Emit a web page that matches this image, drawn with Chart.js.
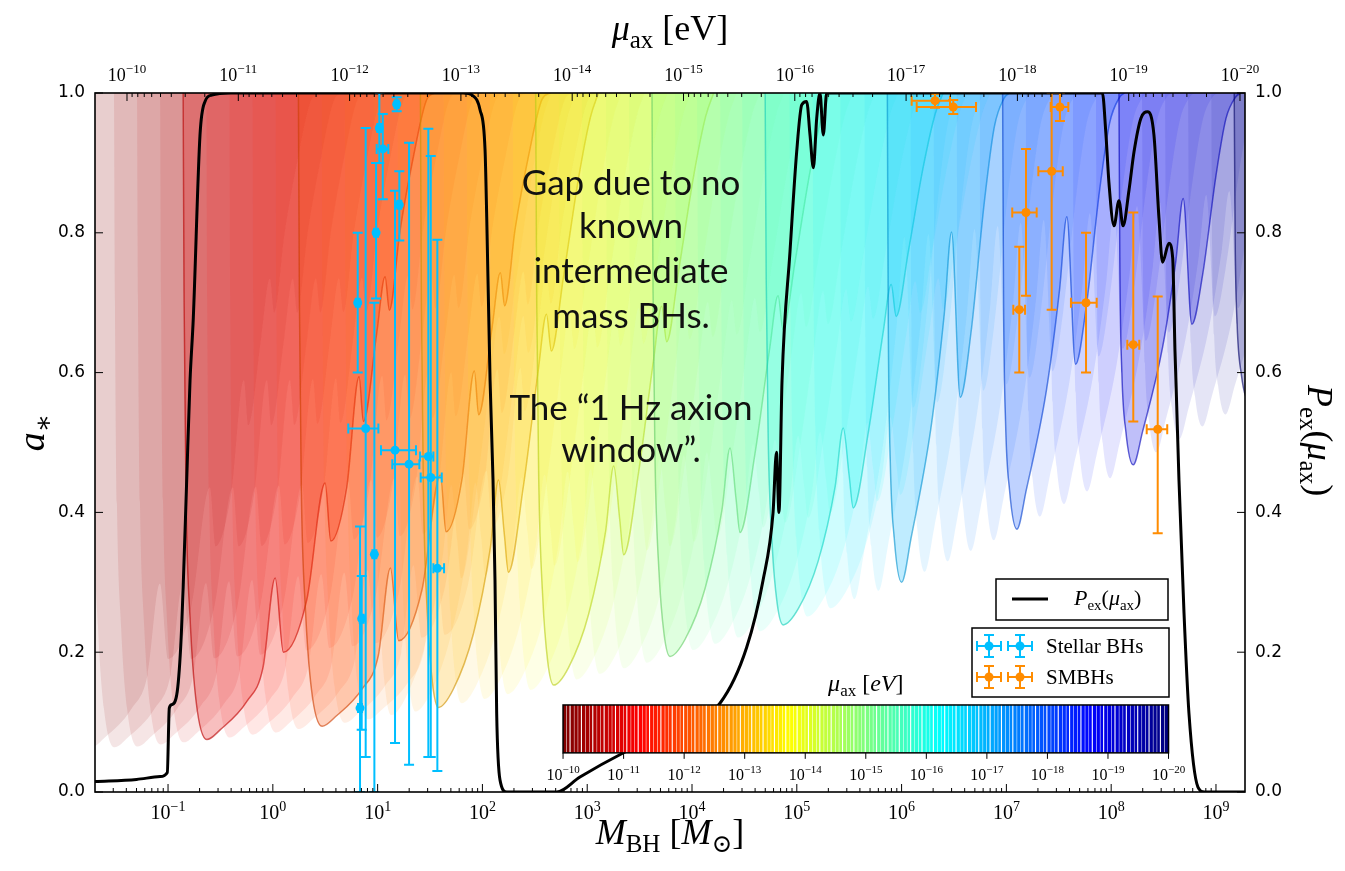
<!DOCTYPE html>
<html>
<head>
<meta charset="utf-8">
<script src="https://cdn.jsdelivr.net/npm/chart.js@4.4.1/dist/chart.umd.min.js"></script>
<style>
  html, body { margin: 0; background: #fff; }
</style>
</head>
<body>
<canvas id="chart" width="1345" height="871"></canvas>
<script>
// Superradiance exclusion regions, black hole spins and P_ex(mu_ax)

// --- region data: one shaded region per axion mass ---
const regionMuExp = [-10.0, -10.2, -10.4, -10.6, -10.8, -11.0, -11.2, -11.4, -11.6, -11.8,
  -12.0, -12.2, -12.4, -12.6, -12.8, -13.0, -13.2, -13.4, -13.6, -13.8,
  -14.0, -14.2, -14.4, -14.6, -14.8, -15.0, -15.2, -15.4, -15.6, -15.8,
  -16.0, -16.2, -16.4, -16.6, -16.8, -17.0, -17.2, -17.4, -17.6, -17.8,
  -18.0, -18.2, -18.4, -18.6, -18.8, -19.0, -19.2, -19.4, -19.6, -19.8, -20.0];
// log10(M_BH) of the deepest point of each region, and the spin there
const regionBottomLogM = [-1.73, -1.51, -1.29, -1.07, -0.85, -0.63, -0.41, -0.19, 0.03, 0.25,
  0.47, 0.69, 0.91, 1.13, 1.36, 1.58, 1.80, 2.02, 2.24, 2.46,
  2.68, 2.90, 3.12, 3.35, 3.57, 3.79, 4.01, 4.22, 4.44, 4.65,
  4.87, 5.10, 5.32, 5.55, 5.78, 6.00, 6.22, 6.44, 6.66, 6.88,
  7.10, 7.32, 7.55, 7.77, 7.99, 8.21, 8.43, 8.65, 8.87, 9.09, 9.31];
const regionBottomSpin = [0.064, 0.064, 0.065, 0.068, 0.071, 0.075, 0.078, 0.082, 0.085, 0.09,
  0.094, 0.099, 0.104, 0.11, 0.115, 0.121, 0.127, 0.133, 0.14, 0.146,
  0.153, 0.161, 0.169, 0.177, 0.185, 0.194, 0.203, 0.212, 0.221, 0.23,
  0.239, 0.251, 0.263, 0.276, 0.288, 0.30, 0.315, 0.33, 0.345, 0.36,
  0.376, 0.394, 0.412, 0.43, 0.449, 0.468, 0.486, 0.505, 0.523, 0.54, 0.56];

// boundary outlines read off the outlined regions:
// [offset in log10 M from the bottom, fraction of the depth below a*=1]
const shapeRed = [[-0.226, 0], [-0.217, 0.32], [-0.198, 0.629], [-0.159, 0.815], [-0.102, 0.941],
  [0, 1], [0.127, 0.985], [0.382, 0.941], [0.537, 0.888], [0.652, 0.75], [0.731, 0.865],
  [0.954, 0.784], [1.129, 0.603], [1.183, 0.693], [1.336, 0.609], [1.453, 0.439], [1.494, 0.508],
  [1.622, 0.371], [1.701, 0.284], [1.742, 0.336], [1.844, 0.213], [1.971, 0.099], [2.099, 0.01], [2.178, 0]];
const shapeMid = [[-0.172, 0], [-0.162, 0.35], [-0.143, 0.65], [-0.105, 0.85], [-0.057, 0.96],
  [0, 1], [0.143, 0.97], [0.334, 0.88], [0.496, 0.74], [0.573, 0.63], [0.630, 0.72], [0.668, 0.78],
  [0.811, 0.64], [0.954, 0.45], [1.031, 0.36], [1.078, 0.42], [1.193, 0.3], [1.336, 0.14],
  [1.450, 0.04], [1.527, 0]];
const shapeBlue = [[-0.136, 0], [-0.127, 0.474], [-0.108, 0.753], [-0.070, 0.91], [0, 1],
  [0.090, 0.91], [0.281, 0.683], [0.407, 0.452], [0.477, 0.284], [0.560, 0.622], [0.662, 0.49],
  [0.789, 0.224], [0.885, 0.069], [0.980, 0.01], [1.028, 0]];

// --- P_ex(mu_ax) curve ---
const pexLogM = [-1.697, -1.3, -1.076, -1.007, -0.988, -0.965, -0.917, -0.879, -0.854, -0.822,
  -0.79, -0.759, -0.695, -0.647, -0.583, -0.4, 1.6, 1.815, 1.91, 1.977, 2.025, 2.041, 2.073,
  2.101, 2.12, 2.136, 2.168, 2.232, 2.709, 2.931, 3.342, 3.6, 3.9, 4.267, 4.522, 4.678, 4.773,
  4.806, 4.83, 4.859, 4.935, 4.999, 5.047, 5.094, 5.126, 5.158, 5.19, 5.221, 5.253, 5.285, 5.4,
  7.8, 7.916, 7.949, 7.979, 8.027, 8.074, 8.113, 8.17, 8.218, 8.284, 8.347, 8.408, 8.456, 8.49,
  8.551, 8.587, 8.609, 8.618, 8.647, 8.695, 8.742, 8.828, 8.89, 9.277];
const pexValue = [0.015, 0.018, 0.022, 0.028, 0.12, 0.125, 0.139, 0.208, 0.30, 0.446,
  0.589, 0.678, 0.94, 0.988, 0.997, 1.0, 1.0, 1.0, 0.996, 0.976, 0.919, 0.823, 0.589,
  0.447, 0.303, 0.113, 0.017, 0.0, 0.0, 0.0215, 0.0558, 0.074, 0.096, 0.127, 0.207, 0.303, 0.399,
  0.486, 0.40, 0.588, 0.773, 0.916, 0.983, 0.988, 0.94, 0.893, 0.964, 1.0, 0.94, 1.0, 1.0,
  1.0, 1.0, 0.943, 0.871, 0.81, 0.846, 0.81, 0.861, 0.916, 0.964, 0.973, 0.94, 0.821, 0.758,
  0.785, 0.764, 0.63, 0.589, 0.446, 0.256, 0.113, 0.007, 0.0, 0.0];

// --- black hole spin measurements ---
const stellarLogM = [1.182, 1.016, 1.049, 0.985, 0.810, 1.207, 0.886, 1.166, 1.30, 1.484, 1.507, 1.57, 0.969, 0.848, 0.832];
const stellarLogMLo = [1.163, 0.997, 0.991, 0.966, 0.791, 1.188, 0.720, 1.032, 1.14, 1.405, 1.411, 1.532, 0.95, 0.829, 0.813];
const stellarLogMHi = [1.201, 1.035, 1.102, 1.004, 0.829, 1.226, 1.007, 1.366, 1.398, 1.532, 1.612, 1.634, 0.988, 0.867, 0.851];
const stellarSpin = [0.984, 0.95, 0.92, 0.80, 0.70, 0.84, 0.52, 0.489, 0.469, 0.48, 0.45, 0.32, 0.34, 0.248, 0.12];
const stellarSpinLo = [0.974, 0.90, 0.848, 0.706, 0.60, 0.789, 0.05, 0.07, 0.039, 0.05, 0.05, 0.03, 0.0, 0.089, 0.0];
const stellarSpinHi = [0.994, 1.0, 0.97, 0.90, 0.80, 0.888, 0.95, 0.86, 0.929, 0.949, 0.91, 0.79, 0.70, 0.309, 0.38];

const smbhLogM = [6.319, 6.493, 7.511, 7.432, 7.187, 7.123, 7.760, 8.211, 8.444];
const smbhLogMLo = [6.096, 6.144, 7.423, 7.305, 7.056, 7.066, 7.616, 8.154, 8.339];
const smbhLogMHi = [6.462, 6.710, 7.591, 7.538, 7.289, 7.178, 7.862, 8.268, 8.535];
const smbhSpin = [0.989, 0.98, 0.98, 0.888, 0.829, 0.69, 0.70, 0.64, 0.519];
const smbhSpinLo = [0.979, 0.97, 0.96, 0.69, 0.71, 0.60, 0.60, 0.53, 0.37];
const smbhSpinHi = [0.999, 0.99, 1.0, 1.0, 0.92, 0.78, 0.80, 0.829, 0.709];

const xDecades = [-1, 0, 1, 2, 3, 4, 5, 6, 7, 8, 9];
const muDecades = [-10, -11, -12, -13, -14, -15, -16, -17, -18, -19, -20];
const spinTicks = [0, 0.2, 0.4, 0.6, 0.8, 1.0];

const STELLAR = "#00bfff";
const SMBH = "#ff8c00";
const SERIF = '"Liberation Serif", "DejaVu Serif", serif';

function jet(t) {
  const c = (v) => Math.round(255 * Math.max(0, Math.min(1, v)));
  return [c(1.5 - Math.abs(4 * t - 3)), c(1.5 - Math.abs(4 * t - 2)), c(1.5 - Math.abs(4 * t - 1))];
}

// --- datasets ---
const datasets = [];
regionMuExp.forEach((mu, k) => {
  const shape = k <= 12 ? shapeRed : k <= 32 ? shapeMid : shapeBlue;
  const depth = 1 - regionBottomSpin[k];
  const [r, g, b] = jet((mu + 20) / 10);
  const strong = k > 0 && k % 5 === 0;
  datasets.push({
    data: shape.map(([dx, f]) => ({ x: 10 ** (regionBottomLogM[k] + dx), y: 1 - depth * f })),
    xAxisID: "x",
    yAxisID: "y",
    order: 100 - k,
    fill: "end",
    backgroundColor: `rgba(${r},${g},${b},${strong ? 0.25 : 0.1})`,
    borderColor: strong ? `rgba(${Math.round(r * 0.8)},${Math.round(g * 0.8)},${Math.round(b * 0.8)},0.6)` : "rgba(0,0,0,0)",
    borderWidth: strong ? 1.5 : 0.01,
    pointRadius: 0,
    cubicInterpolationMode: "monotone",
  });
});

datasets.push({
  data: pexLogM.map((m, i) => ({ x: 10 ** m, y: pexValue[i] })),
  xAxisID: "x",
  yAxisID: "y2",
  order: 0,
  borderColor: "#000",
  borderWidth: 3,
  pointRadius: 0,
  fill: false,
  cubicInterpolationMode: "monotone",
});

const pointSet = (logM, spin, color) => ({
  data: logM.map((m, i) => ({ x: 10 ** m, y: spin[i] })),
  xAxisID: "x",
  yAxisID: "y",
  order: 1,
  showLine: false,
  fill: false,
  pointRadius: 4.5,
  pointBorderWidth: 0,
  pointBackgroundColor: color,
});
datasets.push(pointSet(stellarLogM, stellarSpin, STELLAR));
datasets.push(pointSet(smbhLogM, smbhSpin, SMBH));

// --- drawing helpers ---
function mathText(ctx, runs, x, y, size, align) {
  const fontOf = (st) =>
    `${st.includes("i") ? "italic " : ""}${st.includes("s") ? Math.round(size * 0.7) : size}px ${SERIF}`;
  let total = 0;
  const widths = runs.map(([t, st]) => {
    ctx.font = fontOf(st);
    const w = ctx.measureText(t).width;
    total += w;
    return w;
  });
  let cx = align === "center" ? x - total / 2 : x;
  ctx.textAlign = "left";
  ctx.textBaseline = "alphabetic";
  runs.forEach(([t, st], i) => {
    ctx.font = fontOf(st);
    ctx.fillText(t, cx, y + (st.includes("s") ? size * 0.22 : 0));
    cx += widths[i];
  });
}

function powerLabel(ctx, exp, x, y, size) {
  const e = exp < 0 ? "\u2212" + Math.abs(exp) : String(exp);
  ctx.font = `${size}px ${SERIF}`;
  const wb = ctx.measureText("10").width;
  ctx.font = `${Math.round(size * 0.7)}px ${SERIF}`;
  const we = ctx.measureText(e).width;
  const x0 = x - (wb + we) / 2;
  ctx.textAlign = "left";
  ctx.textBaseline = "alphabetic";
  ctx.font = `${size}px ${SERIF}`;
  ctx.fillText("10", x0, y);
  ctx.font = `${Math.round(size * 0.7)}px ${SERIF}`;
  ctx.fillText(e, x0 + wb, y - size * 0.42);
}

function errorBar(ctx, px, py, x0, x1, y0, y1, color) {
  ctx.strokeStyle = color;
  ctx.lineWidth = 2;
  ctx.beginPath();
  ctx.moveTo(x0, py); ctx.lineTo(x1, py);
  ctx.moveTo(x0, py - 5); ctx.lineTo(x0, py + 5);
  ctx.moveTo(x1, py - 5); ctx.lineTo(x1, py + 5);
  ctx.moveTo(px, y0); ctx.lineTo(px, y1);
  ctx.moveTo(px - 5, y0); ctx.lineTo(px + 5, y0);
  ctx.moveTo(px - 5, y1); ctx.lineTo(px + 5, y1);
  ctx.stroke();
}

// error bars of both spin samples
const errorBars = {
  id: "errorBars",
  afterDatasetsDraw(chart) {
    const { ctx, chartArea: ca, scales: { x, y } } = chart;
    ctx.save();
    ctx.beginPath();
    ctx.rect(ca.left, ca.top, ca.right - ca.left, ca.bottom - ca.top);
    ctx.clip();
    const groups = [
      [stellarLogM, stellarLogMLo, stellarLogMHi, stellarSpin, stellarSpinLo, stellarSpinHi, STELLAR],
      [smbhLogM, smbhLogMLo, smbhLogMHi, smbhSpin, smbhSpinLo, smbhSpinHi, SMBH],
    ];
    groups.forEach(([m, mLo, mHi, s, sLo, sHi, color]) => {
      m.forEach((v, i) => {
        errorBar(ctx,
          x.getPixelForValue(10 ** v), y.getPixelForValue(s[i]),
          x.getPixelForValue(10 ** mLo[i]), x.getPixelForValue(10 ** mHi[i]),
          y.getPixelForValue(sLo[i]), y.getPixelForValue(sHi[i]), color);
      });
    });
    ctx.restore();
  },
};

// frame, inward ticks, log tick labels, axis titles, inset colorbar, legend, notes
const decorations = {
  id: "decorations",
  afterDraw(chart) {
    const { ctx, chartArea: ca, scales } = chart;
    const { x, x2, y } = scales;
    const W = ca.right - ca.left, H = ca.bottom - ca.top;
    ctx.save();

    // ticks
    ctx.strokeStyle = "#000";
    ctx.lineWidth = 1;
    ctx.beginPath();
    for (let d = -2; d <= 9; d++) {
      for (let m = 1; m <= 9; m++) {
        const v = m * 10 ** d;
        if (v < x.min || v > x.max) continue;
        const px = x.getPixelForValue(v), len = m === 1 ? 8 : 4;
        ctx.moveTo(px, ca.bottom); ctx.lineTo(px, ca.bottom - len);
      }
    }
    for (let d = -21; d <= -10; d++) {
      for (let m = 1; m <= 9; m++) {
        const v = m * 10 ** d;
        if (v < x2.min || v > x2.max) continue;
        const px = x2.getPixelForValue(v), len = m === 1 ? 8 : 4;
        ctx.moveTo(px, ca.top); ctx.lineTo(px, ca.top + len);
      }
    }
    spinTicks.forEach((v) => {
      const py = y.getPixelForValue(v);
      ctx.moveTo(ca.left, py); ctx.lineTo(ca.left + 8, py);
      ctx.moveTo(ca.right, py); ctx.lineTo(ca.right - 8, py);
    });
    ctx.stroke();

    // frame
    ctx.lineWidth = 1.6;
    ctx.strokeRect(ca.left, ca.top, W, H);

    // tick labels of the log axes
    ctx.fillStyle = "#000";
    xDecades.forEach((d) => powerLabel(ctx, d, x.getPixelForValue(10 ** d), ca.bottom + 27, 20));
    muDecades.forEach((d) => powerLabel(ctx, d, x2.getPixelForValue(10 ** d), ca.top - 12, 18));

    // axis titles
    mathText(ctx, [["M", "i"], ["BH", "s"], [" [", ""], ["M", "i"], ["\u2299", "s"], ["]", ""]],
      (ca.left + ca.right) / 2, ca.bottom + 52, 36, "center");
    mathText(ctx, [["\u03bc", "i"], ["ax", "s"], [" [eV]", ""]], (ca.left + ca.right) / 2, ca.top - 53, 36, "center");
    ctx.save();
    ctx.translate(44, (ca.top + ca.bottom) / 2 - 10);
    ctx.rotate(-Math.PI / 2);
    mathText(ctx, [["a", "i"], ["\u2217", "s"]], 0, 0, 38, "center");
    ctx.restore();
    ctx.save();
    ctx.translate(ca.right + 63, (ca.top + ca.bottom) / 2 - 2);
    ctx.rotate(Math.PI / 2);
    mathText(ctx, [["P", "i"], ["ex", "s"], ["(", ""], ["\u03bc", "i"], ["ax", "s"], [")", ""]], 0, 0, 36, "center");
    ctx.restore();

    // inset colorbar
    const cbL = ca.left + 0.407 * W, cbR = ca.left + 0.9335 * W;
    const cbT = ca.top + 0.8755 * H, cbB = ca.top + 0.944 * H;
    const nStripes = 160, sw = (cbR - cbL) / nStripes;
    ctx.fillStyle = "#fff";
    ctx.fillRect(cbL, cbT, cbR - cbL, cbB - cbT);
    for (let i = 0; i < nStripes; i++) {
      const [r, g, b] = jet(1 - i / (nStripes - 1));
      ctx.fillStyle = `rgb(${r},${g},${b})`;
      ctx.fillRect(cbL + i * sw, cbT, sw - (i % 3 === 1 ? 1.1 : 0.5), cbB - cbT);
    }
    ctx.strokeStyle = "#000";
    ctx.lineWidth = 1.5;
    ctx.strokeRect(cbL, cbT, cbR - cbL, cbB - cbT);
    ctx.lineWidth = 1;
    ctx.beginPath();
    muDecades.forEach((d, i) => {
      const px = cbL + (i * (cbR - cbL)) / (muDecades.length - 1);
      ctx.moveTo(px, cbB); ctx.lineTo(px, cbB + 6);
    });
    ctx.stroke();
    ctx.fillStyle = "#000";
    muDecades.forEach((d, i) => {
      powerLabel(ctx, d, cbL + (i * (cbR - cbL)) / (muDecades.length - 1), cbB + 27, 16);
    });
    mathText(ctx, [["\u03bc", "i"], ["ax", "s"], [" [", ""], ["eV", "i"], ["]", ""]], (cbL + cbR) / 2, cbT - 14, 24, "center");

    // legend boxes
    ctx.fillStyle = "#fff";
    ctx.strokeStyle = "#000";
    ctx.lineWidth = 1.5;
    ctx.fillRect(996, 579, 172, 41);
    ctx.strokeRect(996, 579, 172, 41);
    ctx.lineWidth = 3;
    ctx.beginPath();
    ctx.moveTo(1012, 599); ctx.lineTo(1048, 599);
    ctx.stroke();
    ctx.fillStyle = "#000";
    mathText(ctx, [["P", "i"], ["ex", "s"], ["(", ""], ["\u03bc", "i"], ["ax", "s"], [")", ""]], 1074, 605, 22, "left");

    ctx.fillStyle = "#fff";
    ctx.lineWidth = 1.5;
    ctx.fillRect(972, 628, 197, 69);
    ctx.strokeRect(972, 628, 197, 69);
    [[STELLAR, 646, "Stellar BHs"], [SMBH, 677, "SMBHs"]].forEach(([color, yy, label]) => {
      [989, 1020].forEach((xx) => {
        errorBar(ctx, xx, yy, xx - 12, xx + 12, yy + 11, yy - 11, color);
        ctx.fillStyle = color;
        ctx.beginPath();
        ctx.arc(xx, yy, 4.5, 0, Math.PI * 2);
        ctx.fill();
      });
      ctx.fillStyle = "#000";
      ctx.font = `21px ${SERIF}`;
      ctx.textAlign = "left";
      ctx.fillText(label, 1046, yy + 7);
    });

    // annotation
    ctx.fillStyle = "#111";
    ctx.font = '35px Lato, "Open Sans", sans-serif';
    ctx.textAlign = "center";
    const note = [["Gap due to no", 195], ["known", 238], ["intermediate", 283], ["mass BHs.", 328],
      ["The \u201c1 Hz axion", 420], ["window\u201d.", 462]];
    note.forEach(([t, yy]) => ctx.fillText(t, 631, yy));
    ctx.restore();
  },
};

const yScale = (position, width) => ({
  type: "linear",
  position,
  min: 0,
  max: 1,
  grid: { display: false, drawTicks: false },
  border: { display: false },
  ticks: {
    stepSize: 0.2,
    padding: 10,
    color: "#000",
    font: { family: '"DejaVu Sans", sans-serif', size: 17 },
    callback: (v) => Number(v).toFixed(1),
  },
  afterFit: (s) => { s.width = width; },
});

new Chart(document.getElementById("chart"), {
  type: "line",
  data: { datasets },
  options: {
    responsive: false,
    animation: false,
    devicePixelRatio: 1,
    events: [],
    layout: { padding: 0 },
    plugins: { legend: { display: false }, tooltip: { enabled: false } },
    scales: {
      x: {
        type: "logarithmic",
        position: "bottom",
        min: 10 ** -1.697,
        max: 10 ** 9.277,
        grid: { display: false },
        border: { display: false },
        ticks: { display: false },
        afterBuildTicks: (s) => { s.ticks = xDecades.map((d) => ({ value: 10 ** d })); },
        afterFit: (s) => { s.height = 79; },
      },
      x2: {
        type: "logarithmic",
        position: "top",
        reverse: true,
        min: 10 ** -20.045,
        max: 10 ** -9.7125,
        grid: { display: false },
        border: { display: false },
        ticks: { display: false },
        afterBuildTicks: (s) => { s.ticks = muDecades.map((d) => ({ value: 10 ** d })); },
        afterFit: (s) => { s.height = 93; },
      },
      y: yScale("left", 95),
      y2: yScale("right", 100),
    },
  },
  plugins: [errorBars, decorations],
});
</script>
</body>
</html>
